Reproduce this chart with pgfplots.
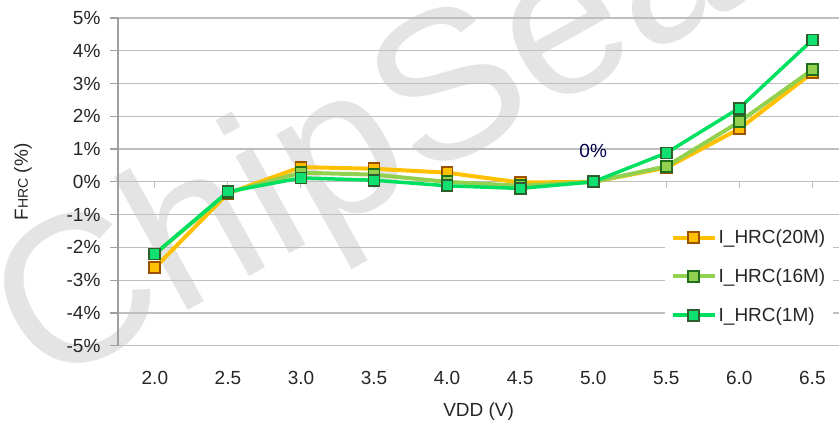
\documentclass[border=0pt]{standalone}
\usepackage{pgfplots}
\pgfplotsset{compat=1.18}
\usepackage{fontspec}
\setmainfont{Liberation Sans}
\definecolor{c20}{HTML}{FFC000}
\definecolor{c20b}{HTML}{9C5200}
\definecolor{c16}{HTML}{92D050}
\definecolor{c16b}{HTML}{1E6E1E}
\definecolor{c1}{HTML}{00E060}
\definecolor{c1f}{HTML}{10E070}
\definecolor{c1b}{HTML}{2E5E2E}
\definecolor{gridc}{HTML}{BEBEBE}
\definecolor{axc}{HTML}{A0A0A0}
\definecolor{wm}{HTML}{E4E4E4}
\begin{document}
\begin{tikzpicture}[x=1pt,y=1pt]
\path (0,0) rectangle (840,428);
% watermark
\begin{scope}
\clip (0,0) rectangle (840,428);
\node[anchor=base,rotate=29,text=wm,font=\fontsize{210}{210}\selectfont,inner sep=0pt] at (395,232) {ChipSea};
\end{scope}
% zero line with tick marks
\begin{axis}[
  at={(118pt,82pt)}, anchor=south west,
  scale only axis, width=722pt, height=328pt,
  xmin=1.747, xmax=6.685, ymin=-5, ymax=5,
  axis x line*=middle, axis y line=none,
  x axis line style={draw=gridc, line width=1.2pt},
  xtick={2,2.5,3,3.5,4,4.5,5,5.5,6,6.5}, xticklabels={},
  xtick style={draw=gridc, line width=1pt},
  tick align=outside, major tick length=6pt,
]
\end{axis}
\begin{axis}[
  at={(118pt,82pt)}, anchor=south west,
  scale only axis, width=722pt, height=328pt,
  xmin=1.747, xmax=6.685, ymin=-5, ymax=5,
  axis lines*=left,
  axis line style={draw=axc, line width=1.2pt},
  x axis line style={draw=gridc},
  ytick={-5,-4,...,5},
  yticklabel={\pgfmathprintnumber[assume math mode=true]{\tick}\%},
  xtick={2,2.5,3,3.5,4,4.5,5,5.5,6,6.5},
  xticklabels={2.0,2.5,3.0,3.5,4.0,4.5,5.0,5.5,6.0,6.5},
  xtick style={draw=none},
  ytick style={draw=axc, line width=1.2pt},
  tick align=outside, major tick length=8pt,
  ymajorgrids, grid style={draw=gridc, line width=1.2pt},
  ticklabel style={font=\fontsize{19}{22}\selectfont, text=black!85},
  xticklabel style={yshift=-14pt},
  yticklabel style={xshift=-6pt},
  xlabel={VDD (V)}, xlabel style={font=\fontsize{19}{22}\selectfont, text=black!85, yshift=-11pt},
  ylabel={F{\fontsize{14}{16}\selectfont HRC} (\%)}, ylabel style={font=\fontsize{19}{22}\selectfont, text=black!85, yshift=28pt},
  clip=false,
  legend style={at={(0.7576,0.378)}, anchor=north west, draw=none, fill=white,
    font=\fontsize{19}{22}\selectfont, text=black!85, row sep=19.5pt,
    inner xsep=6pt, inner ysep=6pt, cells={anchor=west}},
  legend image code/.code={
    \draw[#1, mark=none] (0pt,0pt) -- (42pt,0pt);
    \draw[#1, only marks] plot coordinates {(21pt,0pt)};
  },
]
\addplot[c20, line width=4pt, mark=square*, mark size=5.5pt,
  mark options={fill=c20, draw=c20b, line width=1.8pt}] coordinates {
  (2.0,-2.62) (2.5,-0.35) (3.0,0.45) (3.5,0.40) (4.0,0.28) (4.5,-0.02)
  (5.0,0) (5.5,0.43) (6.0,1.62) (6.5,3.33)};
\addlegendentry{I\_HRC(20M)}
\addplot[c16, line width=4pt, mark=square*, mark size=5.5pt,
  mark options={fill=c16, draw=c16b, line width=1.8pt}] coordinates {
  (2.0,-2.20) (2.5,-0.33) (3.0,0.28) (3.5,0.22) (4.0,0.00) (4.5,-0.12)
  (5.0,0) (5.5,0.47) (6.0,1.83) (6.5,3.42)};
\addlegendentry{I\_HRC(16M)}
\addplot[c1, line width=3.5pt, mark=square*, mark size=5.5pt,
  mark options={fill=c1f, draw=c1b, line width=1.8pt}] coordinates {
  (2.0,-2.20) (2.5,-0.30) (3.0,0.12) (3.5,0.05) (4.0,-0.12) (4.5,-0.20)
  (5.0,0) (5.5,0.88) (6.0,2.25) (6.5,4.33)};
\addlegendentry{I\_HRC(1M)}
\node[font=\fontsize{19}{22}\selectfont, text=black!70!blue] at (axis cs:5.0,0.95) {0\%};
\end{axis}
\end{tikzpicture}
\end{document}
